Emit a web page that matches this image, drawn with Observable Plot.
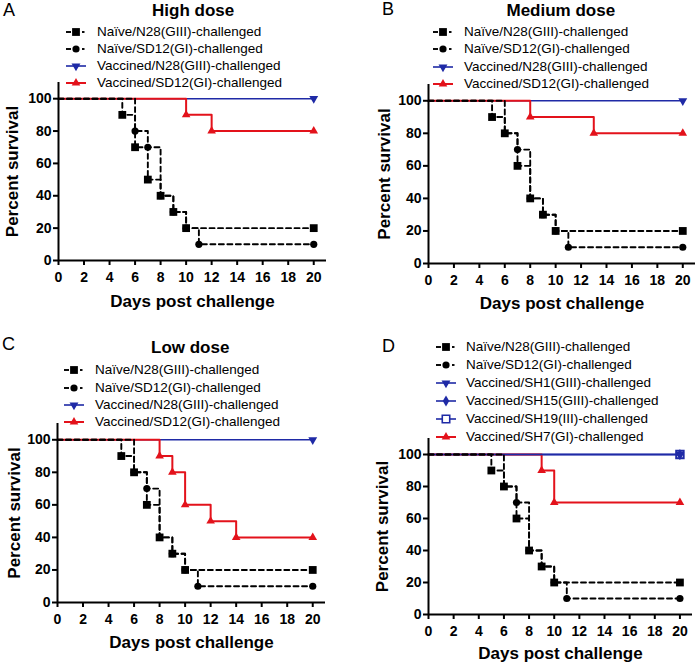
<!DOCTYPE html>
<html><head><meta charset="utf-8">
<script src="https://cdn.jsdelivr.net/npm/d3@7"></script>
<script src="https://cdn.jsdelivr.net/npm/@observablehq/plot@0.6"></script>
<style>
body{margin:0;background:#fff;}
#page{position:relative;width:700px;height:666px;overflow:hidden;background:#fff;font-family:"Liberation Sans",Arial,sans-serif;color:#000;}
.abs{position:absolute;white-space:nowrap;}
svg.plot{position:absolute;}
</style></head><body><div id="page"></div>
<script>
// ---------- DATA ----------
const xTicks = [0, 2, 4, 6, 8, 10, 12, 14, 16, 18, 20];
const yTicks = [0, 20, 40, 60, 80, 100];
const panelLetters = ["A", "B", "C", "D"];
const panelTitles = ["High dose", "Medium dose", "Low dose", ""];
const xTitle = "Days post challenge";
const yTitle = "Percent survival";

// Panel A (High dose)
const namesA = ["Naïve/N28(GIII)-challenged", "Naïve/SD12(GI)-challenged", "Vaccined/N28(GIII)-challenged", "Vaccined/SD12(GI)-challenged"];
const daysA_naiveN28 = [0, 5, 6, 7, 8, 9, 10, 20];
const survA_naiveN28 = [100, 90, 70, 50, 40, 30, 20, 20];
const daysA_naiveSD12 = [0, 6, 7, 8, 9, 10, 11, 20];
const survA_naiveSD12 = [100, 80, 70, 40, 30, 20, 10, 10];
const daysA_vaccN28 = [0, 20];
const survA_vaccN28 = [100, 100];
const daysA_vaccSD12 = [0, 10, 12, 20];
const survA_vaccSD12 = [100, 90, 80, 80];

// Panel B (Medium dose)
const namesB = ["Naïve/N28(GIII)-challenged", "Naïve/SD12(GI)-challenged", "Vaccined/N28(GIII)-challenged", "Vaccined/SD12(GI)-challenged"];
const daysB_naiveN28 = [0, 5, 6, 7, 8, 9, 10, 20];
const survB_naiveN28 = [100, 90, 80, 60, 40, 30, 20, 20];
const daysB_naiveSD12 = [0, 6, 7, 8, 9, 10, 11, 20];
const survB_naiveSD12 = [100, 80, 70, 40, 30, 20, 10, 10];
const daysB_vaccN28 = [0, 20];
const survB_vaccN28 = [100, 100];
const daysB_vaccSD12 = [0, 8, 13, 20];
const survB_vaccSD12 = [100, 90, 80, 80];

// Panel C (Low dose)
const namesC = ["Naïve/N28(GIII)-challenged", "Naïve/SD12(GI)-challenged", "Vaccined/N28(GIII)-challenged", "Vaccined/SD12(GI)-challenged"];
const daysC_naiveN28 = [0, 5, 6, 7, 8, 9, 10, 20];
const survC_naiveN28 = [100, 90, 80, 60, 40, 30, 20, 20];
const daysC_naiveSD12 = [0, 6, 7, 8, 9, 10, 11, 20];
const survC_naiveSD12 = [100, 80, 70, 40, 30, 20, 10, 10];
const daysC_vaccN28 = [0, 20];
const survC_vaccN28 = [100, 100];
const daysC_vaccSD12 = [0, 8, 9, 10, 12, 14, 20];
const survC_vaccSD12 = [100, 90, 80, 60, 50, 40, 40];

// Panel D
const namesD = ["Naïve/N28(GIII)-challenged", "Naïve/SD12(GI)-challenged", "Vaccined/SH1(GIII)-challenged", "Vaccined/SH15(GIII)-challenged", "Vaccined/SH19(III)-challenged", "Vaccined/SH7(GI)-challenged"];
const daysD_naiveN28 = [0, 5, 6, 7, 8, 9, 10, 20];
const survD_naiveN28 = [100, 90, 80, 60, 40, 30, 20, 20];
const daysD_naiveSD12 = [0, 6, 7, 8, 9, 10, 11, 20];
const survD_naiveSD12 = [100, 80, 70, 40, 30, 20, 10, 10];
const daysD_vaccSH1 = [0, 20];
const survD_vaccSH1 = [100, 100];
const daysD_vaccSH15 = [0, 20];
const survD_vaccSH15 = [100, 100];
const daysD_vaccSH19 = [0, 20];
const survD_vaccSH19 = [100, 100];
const daysD_vaccSH7 = [0, 9, 10, 20];
const survD_vaccSH7 = [100, 90, 70, 70];

// ---------- STYLES ----------
const BLUE = "#1f2aa6", RED = "#e3121b", BLACK = "#000";
const sqrt3 = Math.sqrt(3);
const triangleDown = {draw(context, size) {
  const y = -Math.sqrt(size / (sqrt3 * 3));
  context.moveTo(0, -y * 2); context.lineTo(-sqrt3 * y, y); context.lineTo(sqrt3 * y, y); context.closePath();
}};
const styles = {
  sq:   {color: BLACK, dash: "5,3.5", width: 1.9, symbol: "square", r: 4.4, fill: BLACK},
  ci:   {color: BLACK, dash: "5,3.5", width: 1.9, symbol: "circle", r: 3.6, fill: BLACK},
  tdn:  {color: BLUE, dash: null, width: 1.6, symbol: triangleDown, r: 3.3, fill: BLUE},
  tup:  {color: RED, dash: null, width: 2, symbol: "triangle", r: 3.2, fill: RED},
  dia:  {color: BLUE, dash: null, width: 1.6, symbol: "diamond", r: 3.4, fill: BLUE},
  osq:  {color: BLUE, dash: null, width: 1.6, symbol: "square", r: 4.2, fill: "white", plotFill: "none"}
};

// ---------- PANELS (layout) ----------
const panels = [
  {left: 0, top: 0, ml: 58, mr: 24, mt: 82, mb: 73, xdy: 41, ydx: -46,
   letter: {x: 3, y: 11}, title: {x: 193, y: 11},
   legend: {sx: 65, tx: 97, ys: [32, 49, 66, 83]}, names: namesA,
   series: [
     {key: "tdn", days: daysA_vaccN28, surv: survA_vaccN28, leg: 2},
     {key: "tup", days: daysA_vaccSD12, surv: survA_vaccSD12, leg: 3},
     {key: "ci", days: daysA_naiveSD12, surv: survA_naiveSD12, leg: 1},
     {key: "sq", days: daysA_naiveN28, surv: survA_naiveN28, leg: 0}]},
  {left: 350, top: 0, ml: 78, mr: 5, mt: 84, mb: 70, xdy: 40, ydx: -44,
   letter: {x: 382, y: 10}, title: {x: 561, y: 11},
   legend: {sx: 432, tx: 464, ys: [32, 49, 67, 84]}, names: namesB,
   series: [
     {key: "tdn", days: daysB_vaccN28, surv: survB_vaccN28, leg: 2},
     {key: "tup", days: daysB_vaccSD12, surv: survB_vaccSD12, leg: 3},
     {key: "ci", days: daysB_naiveSD12, surv: survB_naiveSD12, leg: 1},
     {key: "sq", days: daysB_naiveN28, surv: survB_naiveN28, leg: 0}]},
  {left: 0, top: 333, ml: 57, mr: 25, mt: 90, mb: 64, xdy: 40, ydx: -43,
   letter: {x: 2, y: 345}, title: {x: 190, y: 348},
   legend: {sx: 63, tx: 95, ys: [370, 388, 405, 422]}, names: namesC,
   series: [
     {key: "tdn", days: daysC_vaccN28, surv: survC_vaccN28, leg: 2},
     {key: "tup", days: daysC_vaccSD12, surv: survC_vaccSD12, leg: 3},
     {key: "ci", days: daysC_naiveSD12, surv: survC_naiveSD12, leg: 1},
     {key: "sq", days: daysC_naiveN28, surv: survC_naiveN28, leg: 0}]},
  {left: 350, top: 333, ml: 78, mr: 8, mt: 105, mb: 52, xdy: 39, ydx: -46,
   letter: {x: 382, y: 347}, title: null,
   legend: {sx: 435, tx: 466, ys: [347, 365, 383, 401, 419, 437]}, names: namesD,
   series: [
     {key: "tdn", days: daysD_vaccSH1, surv: survD_vaccSH1, leg: 2},
     {key: "dia", days: daysD_vaccSH15, surv: survD_vaccSH15, leg: 3},
     {key: "tup", days: daysD_vaccSH7, surv: survD_vaccSH7, leg: 5},
     {key: "osq", days: daysD_vaccSH19, surv: survD_vaccSH19, leg: 4},
     {key: "ci", days: daysD_naiveSD12, surv: survD_naiveSD12, leg: 1},
     {key: "sq", days: daysD_naiveN28, surv: survD_naiveN28, leg: 0}]}
];

const page = document.getElementById("page");
const FONT = '"Liberation Sans", Arial, sans-serif';

function addText(txt, x, cy, size, weight, anchor) {
  const d = document.createElement("div");
  d.className = "abs";
  d.textContent = txt;
  d.style.fontSize = size + "px";
  d.style.fontWeight = weight;
  d.style.lineHeight = (size * 1.2) + "px";
  d.style.top = (cy - size * 0.6) + "px";
  d.style.zIndex = 2;
  page.appendChild(d);
  if (anchor === "middle") {
    d.style.left = (x - d.offsetWidth / 2) + "px";
  } else d.style.left = x + "px";
  return d;
}

function legendSymbol(key, x, cy) {
  const st = styles[key];
  const svg = d3.create("svg").attr("width", 24).attr("height", 16)
    .style("position", "absolute").style("left", x + "px").style("top", (cy - 8) + "px").style("z-index", 2);
  if (st.dash) {
    svg.append("line").attr("x1", 1).attr("x2", 6).attr("y1", 8).attr("y2", 8).attr("stroke", st.color).attr("stroke-width", st.width);
    svg.append("line").attr("x1", 17).attr("x2", 19.5).attr("y1", 8).attr("y2", 8).attr("stroke", st.color).attr("stroke-width", st.width);
  } else {
    svg.append("line").attr("x1", 1).attr("x2", 21).attr("y1", 8).attr("y2", 8).attr("stroke", st.color).attr("stroke-width", st.width);
  }
  const type = typeof st.symbol === "string" ? {square: d3.symbolSquare, circle: d3.symbolCircle, triangle: d3.symbolTriangle, diamond: d3.symbolDiamond}[st.symbol] : st.symbol;
  svg.append("path").attr("transform", "translate(11,8)")
    .attr("d", d3.symbol(type, st.r * st.r * Math.PI)())
    .attr("fill", st.fill).attr("stroke", st.fill === "white" ? st.color : "none").attr("stroke-width", 1.6);
  page.appendChild(svg.node());
}

for (let pi = 0; pi < panels.length; pi++) {
  const p = panels[pi];
  const marks = [];
  for (const s of p.series) {
    const st = styles[s.key];
    const data = s.days.map((d, i) => ({day: d, surv: s.surv[i]}));
    marks.push(Plot.line(data, {x: "day", y: "surv", curve: "step-after", stroke: st.color, strokeWidth: st.width, strokeDasharray: st.dash || undefined}));
  }
  for (const s of p.series) {
    const st = styles[s.key];
    const data = s.days.map((d, i) => ({day: d, surv: s.surv[i]})).slice(1);
    marks.push(Plot.dot(data, {x: "day", y: "surv", symbol: st.symbol, r: st.r, fill: st.plotFill || st.fill,
      stroke: st.fill === "white" ? st.color : "none", strokeWidth: 2}));
  }
  marks.push(Plot.ruleY([0], {strokeWidth: 2}));
  marks.push(Plot.ruleX([0], {strokeWidth: 2}));
  marks.push(Plot.axisX({ticks: xTicks, tickSize: 5, tickPadding: 7, fontSize: 14, fontWeight: "bold", strokeWidth: 2, label: null}));
  marks.push(Plot.axisY({ticks: yTicks, tickSize: 5, tickPadding: 2, fontSize: 14, fontWeight: "bold", strokeWidth: 2, label: null}));
  marks.push(Plot.text([xTitle], {text: d => d, frameAnchor: "bottom", lineAnchor: "middle", textAnchor: "middle", dy: p.xdy, fontSize: 17, fontWeight: "bold"}));
  marks.push(Plot.text([yTitle], {text: d => d, frameAnchor: "left", lineAnchor: "middle", textAnchor: "middle", rotate: -90, dx: p.ydx, fontSize: 17, fontWeight: "bold"}));
  const svg = Plot.plot({
    width: 350, height: 333,
    marginLeft: p.ml, marginRight: p.mr, marginTop: p.mt, marginBottom: p.mb,
    x: {domain: [0, 21]},
    y: {domain: [0, 110]},
    style: {fontFamily: FONT, background: "white", color: "black", overflow: "visible"},
    marks
  });
  svg.classList.add("plot");
  svg.style.left = p.left + "px";
  svg.style.top = p.top + "px";
  page.appendChild(svg);

  addText(panelLetters[pi], p.letter.x, p.letter.y, 18, "normal", "start");
  if (p.title) addText(panelTitles[pi], p.title.x, p.title.y, 17, "bold", "middle");
  const legOrder = p.series.slice().sort((a, b) => a.leg - b.leg);
  legOrder.forEach((s, i) => {
    legendSymbol(s.key, p.legend.sx, p.legend.ys[i]);
    addText(p.names[s.leg], p.legend.tx, p.legend.ys[i], 13.5, "normal", "start");
  });
}
</script></body></html>
